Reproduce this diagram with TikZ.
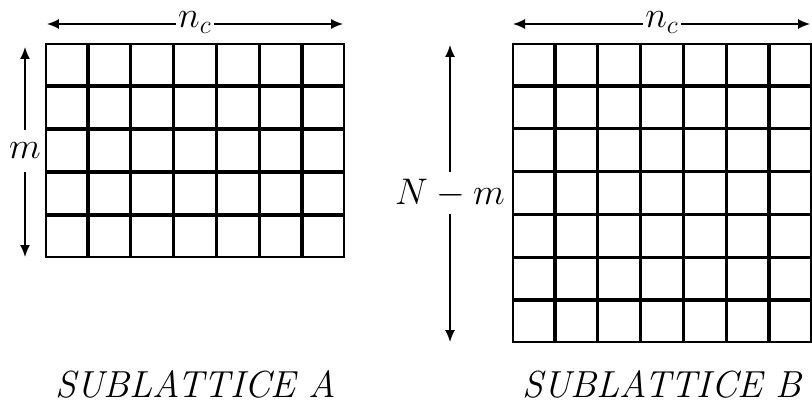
\documentclass[tikz,border=0pt]{standalone}
\usepackage{fontspec}
\usetikzlibrary{arrows.meta}
\begin{document}
\begin{tikzpicture}[x=0.467pt,y=-0.467pt,
  tip/.style={-{Latex[length=5.6pt,width=4.7pt]}, line width=0.75pt},
  vlab/.style={inner sep=0pt, minimum height=19.6pt, font=\LARGE},
  hlab/.style={inner sep=1pt, anchor=base, font=\LARGE},
  title/.style={inner sep=0pt, font=\fontsize{17.6}{21}\selectfont\itshape},
  cell/.style={line width=0.95pt}]
\useasboundingbox (0,0) rectangle (812,402);
% Sublattice A: 7 x 5
\foreach \i in {0,...,6} {
  \foreach \j in {0,...,4} {
    \draw[cell] ({45+\i*300/7+0.7},{43+\j*43+0.7}) rectangle ({45+(\i+1)*300/7-0.7},{43+(\j+1)*43-0.7});
  }
}
% Sublattice B: 7 x 7
\foreach \i in {0,...,6} {
  \foreach \j in {0,...,6} {
    \draw[cell] ({512+\i*300/7+0.7},{43+\j*300/7+0.7}) rectangle ({512+(\i+1)*300/7-0.7},{43+(\j+1)*300/7-0.7});
  }
}
% n_c arrows
\coordinate (ncAl) at (47,24); \coordinate (ncAr) at (343,24);
\node[hlab] (ncA) at (195,28) {$n_c$};
\draw[tip] (ncA.west |- ncAl) -- (ncAl);
\draw[tip] (ncA.east |- ncAr) -- (ncAr);
\coordinate (ncBl) at (513,24); \coordinate (ncBr) at (810,24);
\node[hlab] (ncB) at (662,28) {$n_c$};
\draw[tip] (ncB.west |- ncBl) -- (ncBl);
\draw[tip] (ncB.east |- ncBr) -- (ncBr);
% m arrow
\coordinate (mt) at (25,47); \coordinate (mb) at (25,257);
\node[vlab] (mlab) at (25,151) {$m$};
\draw[tip] (mlab.north) -- (mt);
\draw[tip] (mlab.south) -- (mb);
% N-m arrow
\coordinate (Nt) at (450,45); \coordinate (Nb) at (450,342);
\node[vlab] (Nlab) at (450,193) {$N-m$};
\draw[tip] (Nlab.north) -- (Nt);
\draw[tip] (Nlab.south) -- (Nb);
% titles
\node[title] (tA) at (196,384) {SUBLATTICE A};
\node[title] (tB) at (662,384) {SUBLATTICE B};
\end{tikzpicture}
\end{document}
